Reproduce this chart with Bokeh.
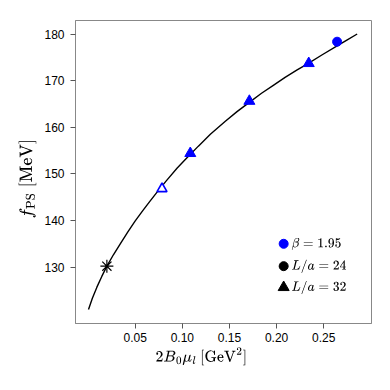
from bokeh.plotting import figure
from bokeh.models import Range1d, FixedTicker, PrintfTickFormatter, Label, Title
from bokeh.embed import file_html
from bokeh.resources import INLINE

# ---- data ----
# chiral fit curve (2B0*mu_l in GeV^2, f_PS in MeV)
curve_x = [0.0004, 0.0045, 0.0093, 0.0145, 0.0199, 0.0270, 0.0341, 0.0420,
           0.0500, 0.0580, 0.0659, 0.0740, 0.0829, 0.0943, 0.1049, 0.1170,
           0.1297, 0.1456, 0.1580, 0.1714, 0.1840, 0.1969, 0.2090, 0.2218,
           0.2324, 0.2480, 0.2642, 0.2750, 0.2855]
curve_y = [120.9, 123.3, 125.7, 128.0, 130.2, 132.7, 135.0, 137.5,
           139.9, 142.1, 144.2, 146.3, 148.5, 151.2, 153.45, 155.95,
           158.5, 161.3, 163.35, 165.4, 167.3, 169.05, 170.7, 172.3,
           173.55, 175.5, 177.45, 178.75, 180.0]

# beta = 1.95, L/a = 32 (filled triangles)
l32_x = [0.1084, 0.1711, 0.2341]
l32_y = [154.4, 165.6, 173.7]
# beta = 1.95, L/a = 32 (open triangle)
l32_open_x = [0.0784]
l32_open_y = [146.8]
# beta = 1.95, L/a = 24 (circle)
l24_x = [0.2642]
l24_y = [178.35]
# physical point (star)
phys_x = [0.0199]
phys_y = [130.2]

x_ticks = [0.05, 0.10, 0.15, 0.20, 0.25]
y_ticks = [130, 140, 150, 160, 170, 180]

legend_labels = [r"$$\beta = 1.95$$", r"$$L/a = 24$$", r"$$L/a = 32$$"]

# ---- figure ----
p = figure(width=382, height=382,
           x_range=Range1d(-0.0134, 0.3007), y_range=Range1d(117.9, 182.9),
           output_backend="svg", toolbar_location=None,
           min_border_left=75, min_border_right=11,
           min_border_top=20, min_border_bottom=59)

p.xgrid.visible = False
p.ygrid.visible = False
p.outline_line_color = "#888888"
p.outline_line_width = 1

for ax in (p.xaxis[0], p.yaxis[0]):
    ax.axis_line_color = "#888888"
    ax.major_tick_line_color = "#555555"
    ax.major_tick_out = 5
    ax.major_tick_in = 0
    ax.minor_tick_out = 0
    ax.minor_tick_in = 0
    ax.major_label_text_font = "Liberation Sans"
    ax.major_label_text_font_size = "12px"
    ax.major_label_text_color = "black"

p.xaxis[0].ticker = FixedTicker(ticks=x_ticks)
p.xaxis[0].formatter = PrintfTickFormatter(format="%.2f")
p.xaxis[0].major_label_standoff = 4
p.yaxis[0].ticker = FixedTicker(ticks=y_ticks)
p.yaxis[0].major_label_standoff = 6

# fit curve
p.line(curve_x, curve_y, line_color="black", line_width=1.4)

# data points
p.scatter(l32_x, l32_y, marker="triangle", size=11, fill_color="blue", line_color="blue")
p.scatter(l32_open_x, l32_open_y, marker="triangle", size=10, fill_color="white",
          line_color="blue", line_width=1.6)
p.scatter(l24_x, l24_y, marker="circle", size=9, fill_color="blue", line_color="blue")
p.scatter(phys_x, phys_y, marker="asterisk", size=13, line_color="black", line_width=1.2)

# ---- legend (drawn by hand) ----
leg_mx = 0.2075
leg_tx = 0.2158
leg_y = [135.0, 130.2, 125.65]
p.scatter([leg_mx], [leg_y[0]], marker="circle", size=9, fill_color="blue", line_color="blue")
p.scatter([leg_mx], [leg_y[1]], marker="circle", size=9, fill_color="black", line_color="black")
p.scatter([leg_mx], [leg_y[2]], marker="triangle", size=11, fill_color="black", line_color="black")
for yy, txt in zip(leg_y, legend_labels):
    p.add_layout(Label(x=leg_tx, y=yy, text=txt, text_font_size="11.3px",
                       text_align="left", text_baseline="middle", text_color="black"))

# ---- axis labels (as titles so they can be shifted like the reference) ----
p.add_layout(Title(text=r"$$2B_0\mu_l\:[\mathrm{GeV}^2]$$", align="left", offset=80,
                   text_font_size="13px", text_font_style="normal", text_color="black",
                   standoff=2), "below")
p.add_layout(Title(text=r"$$f_\mathrm{PS}\;[\mathrm{MeV}]$$", align="left", offset=105,
                   text_font_size="14px", text_font_style="normal", text_color="black",
                   standoff=10), "left")

open("out.html", "w").write(file_html(p, INLINE))
